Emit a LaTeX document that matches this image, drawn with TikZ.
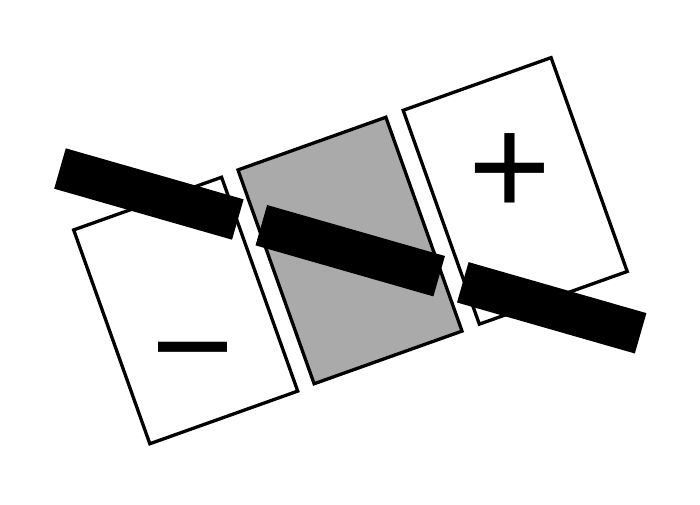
\documentclass[tikz,border=0pt]{standalone}
\usepackage{fontspec}
\setmainfont{Liberation Sans}
\definecolor{midgray}{RGB}{170,170,170}
\begin{document}
\begin{tikzpicture}[x=1pt,y=-1pt,
  cell/.style={draw=black, line width=3.3pt, minimum width=157pt, minimum height=227pt, rotate=19.6, inner sep=0pt, outer sep=0pt},
  bar/.style={fill=black, minimum width=185pt, minimum height=42pt, rotate=-16, inner sep=0pt, outer sep=0pt},
  sym/.style={font=\fontsize{142}{142}\selectfont, inner sep=0pt}]
\useasboundingbox[fill=white] (0,0) rectangle (700,504);
\node[cell, fill=white] (neg) at (185.7,310.5) {};
\node[cell, fill=midgray] (mid) at (350,250.5) {};
\node[cell, fill=white] (pos) at (515.2,190.9) {};
\node[sym] (minus) at (193,368) {−};
\node[sym] (plus) at (509.7,175) {+};
\node[bar] (b1) at (148.9,194) {};
\node[bar] (b2) at (350.25,250.7) {};
\node[bar] (b3) at (551.7,307.8) {};
\end{tikzpicture}
\end{document}
